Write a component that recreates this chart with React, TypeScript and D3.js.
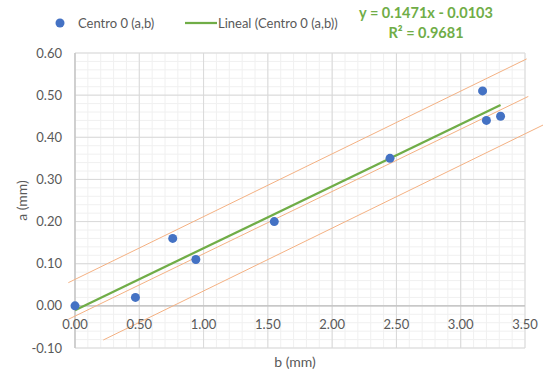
import React from "react";
import { scaleLinear, line, range } from "d3";

const width = 543, height = 371;

// Centro 0 (a,b) measurements
const bValues = [0, 0.47, 0.76, 0.94, 1.55, 2.45, 3.17, 3.2, 3.31];
const aValues = [0, 0.02, 0.16, 0.11, 0.2, 0.35, 0.51, 0.44, 0.45];

// trendline
const slope = 0.1471;
const intercept = -0.0103;
const equationLabel = "y = 0.1471x - 0.0103";
const r2Label = "R² = 0.9681";

// hand drawn orange guide lines [x0, y0, x1, y1] in data units
const guideUpper = [-0.052, 0.055, 3.513, 0.586];
const guideMiddle = [-0.052, -0.032, 3.526, 0.497];
const guideLower = [0.22, -0.081, 3.66, 0.432];

const xTicks = [0, 0.5, 1, 1.5, 2, 2.5, 3, 3.5];
const yTicks = [-0.1, 0, 0.1, 0.2, 0.3, 0.4, 0.5, 0.6];

const seriesName = "Centro 0 (a,b)";
const trendName = "Lineal (Centro 0 (a,b))";

const font = "Lato, 'Noto Sans', sans-serif";
const textGray = "#595959";

const App = () => {
  const x = scaleLinear().domain([0, 3.5]).range([75, 525]);
  const y = scaleLinear().domain([-0.1, 0.6]).range([348, 53]);

  const xMinor = range(0, 3.5001, 0.1);
  const yMinor = range(-0.1, 0.6001, 0.02);

  const seg = line<number[]>().x(d => x(d[0])).y(d => y(d[1]));
  const xMax = Math.max(...bValues);
  const trend = [[0, intercept], [xMax, intercept + slope * xMax]];
  const guides = [guideUpper, guideMiddle, guideLower];

  return (
    <div style={{ position: "fixed", left: 0, top: 0 }}>
      <svg width={width} height={height} style={{ display: "block", background: "#fff" }}>
        {/* minor grid */}
        {xMinor.map((v, i) => (
          <line key={"xm" + i} x1={x(v)} x2={x(v)} y1={y(0.6)} y2={y(-0.1)} stroke="#f0f0f0" strokeWidth={1} />
        ))}
        {yMinor.map((v, i) => (
          <line key={"ym" + i} x1={x(0)} x2={x(3.5)} y1={y(v)} y2={y(v)} stroke="#f0f0f0" strokeWidth={1} />
        ))}
        {/* major grid */}
        {xTicks.map(v => (
          <line key={"xg" + v} x1={x(v)} x2={x(v)} y1={y(0.6)} y2={y(-0.1)} stroke="#d9d9d9" strokeWidth={1} />
        ))}
        {yTicks.map(v => (
          <line key={"yg" + v} x1={x(0)} x2={x(3.5)} y1={y(v)} y2={y(v)} stroke="#d9d9d9" strokeWidth={1} />
        ))}
        {/* axes */}
        <line x1={x(0)} x2={x(3.5)} y1={y(0)} y2={y(0)} stroke="#bfbfbf" strokeWidth={1.2} />
        <line x1={x(0)} x2={x(0)} y1={y(0.6)} y2={y(-0.1)} stroke="#bfbfbf" strokeWidth={1.2} />

        {/* orange guides */}
        {guides.map((g, i) => (
          <path key={"g" + i} d={seg([[g[0], g[1]], [g[2], g[3]]]) || ""} stroke="#f4b183" strokeWidth={1} fill="none" />
        ))}

        {/* trendline */}
        <path d={seg(trend) || ""} stroke="#70ad47" strokeWidth={2.25} fill="none" />

        {/* points */}
        {bValues.map((b, i) => (
          <circle key={"p" + i} cx={x(b)} cy={y(aValues[i])} r={4.5} fill="#4472c4" />
        ))}

        {/* tick labels */}
        {yTicks.map(v => (
          <text key={"yl" + v} x={62} y={y(v)} dy="0.35em" textAnchor="end" fontFamily={font} fontSize={13} fill={textGray}>
            {v.toFixed(2)}
          </text>
        ))}
        {xTicks.map(v => (
          <text key={"xl" + v} x={x(v)} y={y(0) + 19} dy="0.35em" textAnchor="middle" fontFamily={font} fontSize={13} fill={textGray}>
            {v.toFixed(2)}
          </text>
        ))}

        {/* axis titles */}
        <text x={295} y={362} dy="0.35em" textAnchor="middle" fontFamily={font} fontSize={14} fill={textGray}>b (mm)</text>
        <text transform={`translate(22,${(y(0.6) + y(-0.1)) / 2}) rotate(-90)`} dy="0.35em" textAnchor="middle" fontFamily={font} fontSize={14} fill={textGray}>a (mm)</text>

        {/* legend */}
        <circle cx={60} cy={23} r={4.5} fill="#4472c4" />
        <text x={78} y={23} dy="0.35em" fontFamily={font} fontSize={13} fill={textGray}>{seriesName}</text>
        <line x1={185} x2={217} y1={23} y2={23} stroke="#70ad47" strokeWidth={2.25} />
        <text x={218} y={23} dy="0.35em" fontFamily={font} fontSize={13} fill={textGray}>{trendName}</text>

        {/* equation */}
        <text x={426} y={13} dy="0.35em" textAnchor="middle" fontFamily={font} fontWeight="bold" fontSize={14.5} fill="#70ad47">{equationLabel}</text>
        <text x={426} y={33} dy="0.35em" textAnchor="middle" fontFamily={font} fontWeight="bold" fontSize={14.5} fill="#70ad47">{r2Label}</text>
      </svg>
    </div>
  );
};

export default App;
